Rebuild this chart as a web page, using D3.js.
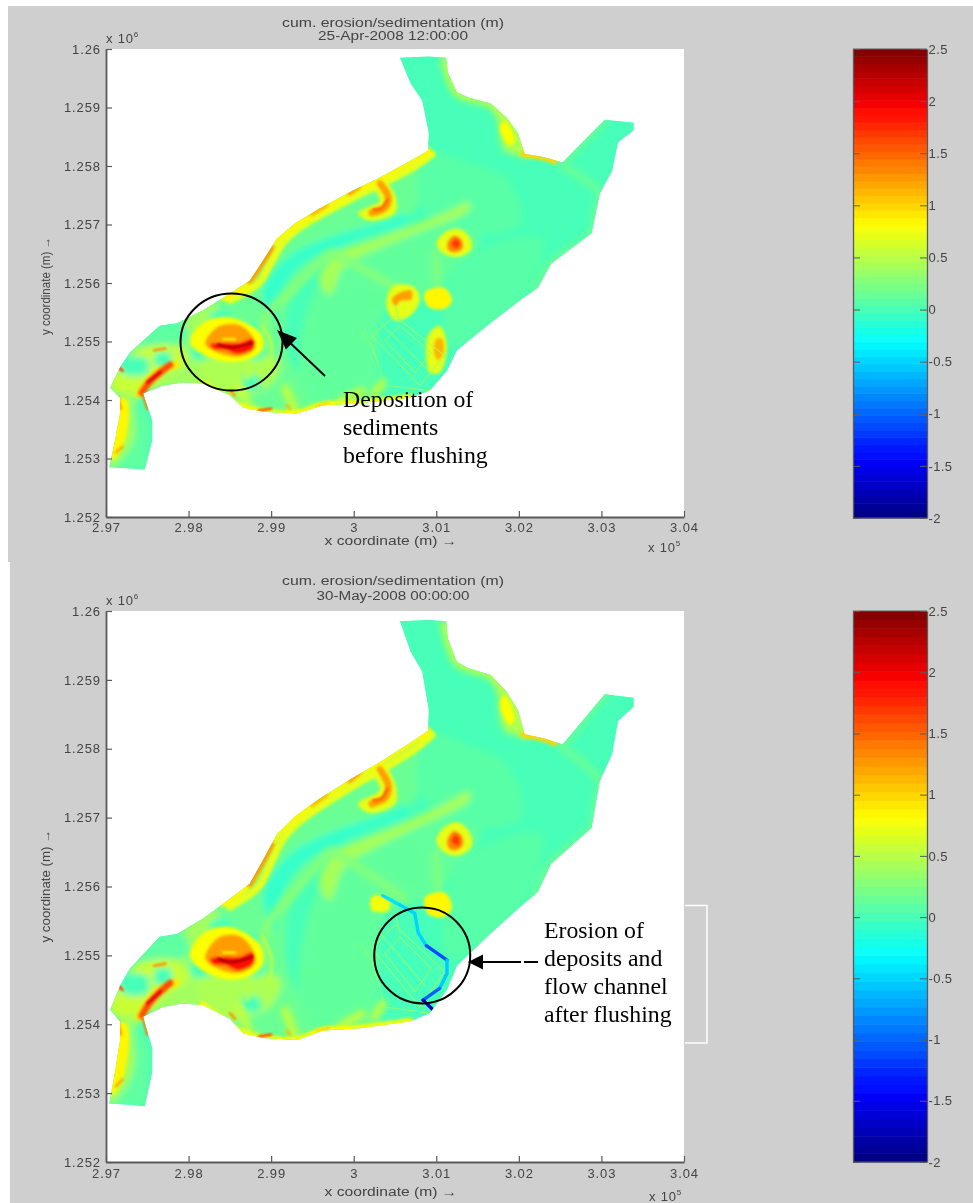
<!DOCTYPE html>
<html><head><meta charset="utf-8">
<script src="https://cdn.jsdelivr.net/npm/d3@7/dist/d3.min.js"></script>
<style>html,body{margin:0;padding:0;background:#fff}svg{display:block}
text{font-family:"Liberation Sans",Arial,sans-serif;fill:#444}
.note{font-family:"Liberation Serif","Times New Roman",serif;fill:#000;font-size:23.8px}</style>
</head><body><svg id="c" width="973" height="1203"></svg>
<script>
// ---- data: coordinates in km (axis labels are x/100 ×10^5 m and y/1000 ×10^6 m) ----
const xTicks=[297,298,299,300,301,302,303,304];
const yTicks=[1252,1253,1254,1255,1256,1257,1258,1259,1260];
const cbTicks=[-2,-1.5,-1,-0.5,0,0.5,1,1.5,2,2.5];
const titleLine="cum. erosion/sedimentation (m)";
const dates=["25-Apr-2008 12:00:00","30-May-2008 00:00:00"];
const outline=[[300.56,1259.85],[300.91,1259.87],[301.12,1259.85],[301.14,1259.6],[301.25,1259.26],[301.39,1259.17],[301.66,1259.07],[301.85,1258.83],[301.99,1258.56],[302.07,1258.21],[302.31,1258.15],[302.53,1258.06],[303.04,1258.79],[303.39,1258.74],[303.39,1258.61],[303.20,1258.40],[303.13,1257.92],[302.98,1257.53],[302.93,1257.19],[302.88,1256.85],[302.39,1256.33],[302.23,1255.92],[302.01,1255.70],[301.65,1255.31],[301.25,1254.85],[301.13,1254.50],[300.92,1254.16],[300.68,1254.04],[300.04,1253.94],[299.63,1253.91],[299.31,1253.77],[298.90,1253.80],[298.66,1253.87],[298.50,1254.08],[298.17,1254.28],[297.93,1254.30],[297.69,1254.25],[297.45,1254.11],[297.56,1253.65],[297.56,1253.31],[297.47,1252.81],[297.31,1252.83],[297.04,1252.85],[297.11,1253.31],[297.17,1253.77],[297.17,1254.04],[297.05,1254.21],[297.17,1254.56],[297.29,1254.81],[297.65,1255.27],[297.86,1255.31],[298.17,1255.53],[298.42,1255.75],[298.74,1256.04],[298.90,1256.38],[299.07,1256.76],[299.29,1257.02],[299.58,1257.27],[299.99,1257.58],[300.31,1257.80],[300.69,1258.09],[300.90,1258.26],[300.91,1258.56],[300.83,1259.12],[300.69,1259.41]];
// filled zones: [value in m, polygon]
const zones=[
[0.16,[[298.31,1255.70],[298.74,1256.08],[299.07,1256.76],[299.58,1257.27],[300.30,1257.80],[300.74,1258.09],[300.75,1257.27],[300.19,1256.93],[299.77,1256.59],[299.35,1256.04],[299.17,1255.36],[299.35,1254.42],[300.32,1254.0],[299.35,1253.72],[298.66,1253.82],[298.2,1254.25],[297.9,1255.0]]],
[0.12,[[299.83,1256.47],[300.8,1257.03],[301.4,1257.32],[301.53,1256.73],[300.92,1255.87],[300.38,1255.53],[300.19,1254.08],[299.47,1253.99],[299.35,1255.02]]],
[0.08,[[300.91,1258.21],[301.42,1258.04],[301.85,1257.79],[302.03,1257.02],[301.53,1256.85],[300.8,1257.36]]],
[0.07,[[301.25,1256.33],[302.28,1256.76],[302.03,1255.70],[301.16,1254.93]]],
[-0.08,[[298.9,1255.88],[299.23,1256.47],[299.71,1256.78],[300.44,1257.09],[300.62,1257.19],[300.62,1257.02],[300.2,1256.85],[299.71,1256.55],[299.35,1256.27],[299.11,1255.79],[299.05,1255.36]]],
[0.42,[[299.58,1256.05],[299.77,1256.5],[300.26,1256.75],[300.74,1257.0],[301.1,1257.2],[301.4,1257.38],[301.4,1257.25],[300.8,1256.88],[300.32,1256.6],[299.89,1256.28],[299.71,1255.8]]],
[0.4,[[297.04,1252.85],[297.17,1254.0],[297.05,1254.21],[297.29,1254.81],[297.86,1255.31],[298.32,1255.7],[298.2,1254.28],[297.45,1254.11],[297.35,1253.31],[297.23,1252.85]]],
[0.58,[[297.05,1254.2],[297.25,1254.7],[297.7,1254.95],[298.0,1254.7],[297.7,1254.4],[297.45,1254.15]]],
[0.85,[[297.13,1254.0],[297.25,1254.0],[297.23,1253.31],[297.08,1252.96],[297.07,1253.21]]],
[0.1,[[297.33,1254],[297.53,1253.65],[297.53,1253.31],[297.47,1252.81],[297.11,1252.85],[297.23,1253.05],[297.35,1253.39]]],
[0,[[297.2,1254.7],[297.5,1254.7],[297.5,1254.45],[297.2,1254.45]]],
[0,[[297.6,1254.8],[297.78,1254.8],[297.78,1254.58],[297.6,1254.58]]],
[0.1,[[297.33,1254.95],[297.6,1255.25],[297.95,1255.3],[298.0,1255.0],[297.7,1254.95]]],
[0,[[298.05,1255.0],[298.3,1255.0],[298.3,1254.7],[298.05,1254.7]]],
[0,[[298.28,1255.5],[298.5,1255.5],[298.5,1255.3],[298.28,1255.3]]],
[0.45,[[298.11,1254.64],[299.11,1254.67],[298.98,1254.25],[298.38,1254.07],[298.14,1254.42]]],
[0,[[298.66,1254.38],[298.86,1254.38],[298.86,1254.2],[298.66,1254.2]]],
[0,[[298.75,1255.3],[298.85,1255.3],[298.88,1254.7],[298.78,1254.7]]],
[0.8,[[298.02,1254.98],[298.16,1255.3],[298.44,1255.42],[298.72,1255.3],[298.89,1255.1],[298.88,1254.83],[298.62,1254.66],[298.26,1254.72]]],
[1.25,[[298.2,1254.96],[298.36,1255.26],[298.62,1255.28],[298.78,1255.07],[298.79,1254.86],[298.59,1254.74],[298.33,1254.82]]],
[1.9,[[298.26,1254.95],[298.46,1254.98],[298.62,1254.98],[298.78,1255.05],[298.8,1254.9],[298.6,1254.78],[298.44,1254.86],[298.3,1254.87]]],
[0.7,[[300.22,1257.70],[300.34,1257.79],[300.50,1257.50],[300.50,1257.20],[300.19,1257.07],[300.05,1257.20],[300.22,1257.32],[300.32,1257.41]]],
[0.7,[[301.0,1256.67],[301.1,1256.86],[301.26,1256.93],[301.40,1256.79],[301.43,1256.59],[301.28,1256.45],[301.1,1256.49]]],
[1.35,[[301.13,1256.67],[301.21,1256.81],[301.31,1256.74],[301.32,1256.59],[301.23,1256.52],[301.15,1256.55]]],
[1.7,[[301.18,1256.67],[301.24,1256.76],[301.29,1256.67],[301.25,1256.59]]],
[0.85,[[300.86,1255.84],[301.1,1255.91],[301.19,1255.7],[301.1,1255.56],[300.9,1255.6]]],
[0.45,[[301.66,1259.07],[301.99,1258.56],[302.06,1258.21],[301.83,1258.26],[301.73,1258.86]]],
[0.8,[[301.83,1258.78],[301.95,1258.44],[301.89,1258.35],[301.77,1258.64]]]
];
// zones seen only in the April picture
const aprilZones=[
[0.7,[[300.41,1255.79],[300.5,1255.96],[300.74,1255.92],[300.8,1255.7],[300.68,1255.44],[300.5,1255.36],[300.41,1255.53]]],
[1.25,[[300.46,1255.72],[300.56,1255.84],[300.7,1255.87],[300.7,1255.72],[300.56,1255.69],[300.51,1255.6]]],
[0.7,[[300.9,1255.1],[301.04,1255.27],[301.13,1254.93],[301.04,1254.47],[300.92,1254.47]]],
[1.15,[[301.0,1255.05],[301.07,1255.05],[301.09,1254.81],[301.02,1254.67],[300.97,1254.81]]]
];
const mayZones=[
[0.75,[[300.22,1255.85],[300.42,1255.85],[300.42,1255.65],[300.22,1255.65]]]
];
// streaks: [value, polyline]
const wideStreaks=[
[0.72,[[298.5,1255.7],[298.85,1256.0],[299.0,1256.35],[299.15,1256.7],[299.35,1256.95],[299.65,1257.2],[300.05,1257.5],[300.35,1257.7],[300.75,1258.0],[300.95,1258.2]]],
[0.85,[[298.42,1255.75],[298.74,1256.04],[298.90,1256.38],[299.07,1256.76],[299.29,1257.02],[299.58,1257.27],[299.99,1257.58],[300.31,1257.80],[300.69,1258.09],[300.90,1258.26]]],
[1.25,[[298.74,1256.04],[298.90,1256.38],[299.0,1256.6]]],
[1.1,[[299.5,1257.2],[299.65,1257.33]]],
[1.2,[[299.95,1257.55],[300.05,1257.65]]],
[0.5,[[301.1,1259.8],[301.25,1259.26],[301.39,1259.17],[301.65,1259.07],[301.85,1258.83],[301.99,1258.56],[302.07,1258.21]]],
[1.0,[[302.06,1258.21],[302.31,1258.15],[302.43,1258.09]]],
[0.15,[[302.53,1258.0],[302.98,1257.53],[302.93,1257.19],[302.88,1256.85],[302.39,1256.33],[302.19,1255.87]]],
[0.15,[[302.53,1258.06],[303.04,1258.79]]],
[0.8,[[298.17,1254.28],[298.66,1253.87],[298.90,1253.8],[299.31,1253.77],[299.63,1253.91],[300.04,1253.94],[300.68,1254.04]]],
[0.3,[[299.7,1256.5],[299.3,1255.95],[298.92,1255.35],[298.95,1254.9]]],
[0.28,[[299.74,1256.52],[300.17,1256.19],[300.6,1255.84]]],
[0.25,[[300.99,1256.48],[301.03,1255.84]]],
[0.55,[[298.6,1254.25],[298.75,1253.85]]],
[0.55,[[299.17,1254.2],[299.3,1253.8]]],
[0.55,[[299.85,1253.98],[300.1,1254.15]]],
[0.55,[[300.35,1254.3],[300.25,1254.1]]],
[1.25,[[300.32,1257.70],[300.42,1257.46],[300.38,1257.29],[300.22,1257.20]]],
[0.9,[[297.4,1254.1],[297.5,1254.3],[297.65,1254.5],[297.85,1254.6]]],
[1.6,[[297.43,1254.12],[297.52,1254.3],[297.66,1254.48],[297.78,1254.6]]]
];
const thinStreaks=[
[0.5,[[298.89,1255.27],[299.01,1254.93],[298.96,1254.58]]],
[0.9,[[298.42,1255.04],[298.56,1255.04]]],
[2.3,[[298.36,1254.95],[298.52,1254.9],[298.77,1254.98]]],
[1.5,[[300.41,1257.42],[300.34,1257.28],[300.24,1257.25]]],
[0.5,[[298.72,1254.6],[298.72,1254.35]]],
[1.6,[[298.85,1253.82],[299.0,1253.85]]],
[1.3,[[298.5,1254.16],[298.56,1254.08]]],
[1.1,[[299.19,1253.91],[299.23,1253.85]]],
[1.0,[[299.55,1253.9],[299.7,1253.95]]],
[2.1,[[297.5,1254.3],[297.66,1254.48]]],
[1.7,[[297.12,1254.6],[297.2,1254.5]]],
[1.4,[[297.45,1254.1],[297.5,1253.85]]],
[1.3,[[297.14,1254.05],[297.18,1253.85]]],
[1.2,[[297.12,1253.1],[297.2,1253.2]]],
[1.3,[[297.58,1254.85],[297.72,1254.88]]]
];
// faint hatching of the rectangular works
const faintLines=[
[-0.12,[[300.28,1255.31],[300.84,1254.5]]],
[-0.12,[[300.38,1255.31],[300.9,1254.59]]],
[0.38,[[300.33,1255.31],[300.87,1254.55]]],
[0.4,[[300.22,1255.1],[300.5,1255.44],[301.1,1254.76],[300.8,1254.25],[300.22,1255.1]]],
[0.38,[[300.38,1255.02],[300.56,1255.27],[300.94,1254.81],[300.74,1254.47],[300.38,1255.02]]],
[0.35,[[300.07,1255.19],[300.22,1254.93],[300.38,1254.25],[300.92,1254.16]]],
[0.35,[[300.56,1255.33],[300.5,1255.62]]]
];
// eroded flow channel, May picture only
const mayChannel=[
[-0.45,[[300.35,1255.87],[300.56,1255.73]]],
[-0.5,[[300.56,1255.73],[300.74,1255.61],[300.78,1255.33],[300.88,1255.14]]],
[-1.1,[[300.88,1255.14],[301.13,1254.93]]],
[-0.55,[[301.13,1254.93],[301.13,1254.74],[301.04,1254.52]]],
[-1.0,[[301.04,1254.52],[300.84,1254.35]]],
[-1.7,[[300.84,1254.35],[300.96,1254.21]]]
];
const noteLinesApril=["Deposition of","sediments","before flushing"];
const noteLinesMay=["Erosion of","deposits and","flow channel","after flushing"];

// ---- drawing ----
const clamp=v=>Math.max(0,Math.min(1,v));
const jetT=t=>d3.rgb(255*clamp(1.5-Math.abs(4*t-3)),255*clamp(1.5-Math.abs(4*t-2)),255*clamp(1.5-Math.abs(4*t-1))).formatHex();
const colorOf=d3.scaleLinear([-2,2.5],[0,1]);
const jet=v=>jetT(colorOf(v));
const GRAY="#cfcfcf",AX="#5a5a5a";
const svg=d3.select("#c");
const defs=svg.append("defs");
[["b3",3.2],["b2",1.5],["b1",0.8],["soft",0.4]].forEach(([id,s])=>
  defs.append("filter").attr("id",id).attr("x","-5%").attr("y","-5%").attr("width","110%").attr("height","110%")
  .append("feGaussianBlur").attr("stdDeviation",s));
svg.append("rect").attr("width",973).attr("height",1203).attr("fill","#fff");
svg.append("rect").attr("x",8).attr("y",6).attr("width",965).attr("height",556).attr("fill",GRAY);
svg.append("rect").attr("x",10).attr("y",562).attr("width",963).attr("height",641).attr("fill",GRAY);

function panel(i,o){
  const {top,bottom}=o;
  const x=d3.scaleLinear([297,304],[106,684]);
  const y=d3.scaleLinear([1252,1260],[bottom,top]);
  const g=svg.append("g");
  g.append("rect").attr("x",106).attr("y",top).attr("width",578).attr("height",bottom-top).attr("fill","#fff");
  const line=d3.line().x(d=>x(d[0])).y(d=>y(d[1]));
  const smoothOpen=d3.line().x(d=>x(d[0])).y(d=>y(d[1])).curve(d3.curveCatmullRom.alpha(0.5));
  const smoothClosed=d3.line().x(d=>x(d[0])).y(d=>y(d[1])).curve(d3.curveCatmullRomClosed.alpha(0.5));
  const cid="clip"+i;
  defs.append("clipPath").attr("id",cid).append("path").attr("d",line(outline)+"Z");
  const map=g.append("g").attr("clip-path",`url(#${cid})`);
  map.append("path").attr("d",line(outline)+"Z").attr("fill",jet(0)).attr("stroke",jet(0)).attr("stroke-width",8);
  const zs=i===0?zones.concat(aprilZones):zones.concat(mayZones);
  const low=v=>v<0.6;
  const drawZones=(data,f)=>map.append("g").attr("filter",`url(#${f})`).selectAll("path").data(data).join("path")
    .attr("d",d=>smoothClosed(d[1])).attr("fill",d=>jet(d[0]));
  const drawLines=(data,f,w,gen)=>map.append("g").attr("filter",`url(#${f})`).selectAll("path").data(data).join("path")
    .attr("d",d=>(gen||smoothOpen)(d[1])).attr("fill","none").attr("stroke",d=>jet(d[0])).attr("stroke-width",w).attr("stroke-linecap","round");
  drawZones(zs.filter(d=>low(d[0])),"b3");
  drawLines(wideStreaks.filter(d=>low(d[0])),"b3",8);
  drawZones(zs.filter(d=>!low(d[0])),"b2");
  drawLines(wideStreaks.filter(d=>!low(d[0])),"b2",7);
  drawLines(thinStreaks,"b1",2.6);
  drawLines(faintLines,"soft",1,line);
  if(i===1) drawLines(mayChannel,"soft",3.4,line);

  const soft=g.append("g").attr("filter","url(#soft)");
  const ax=soft.append("g").attr("transform",`translate(0,${bottom})`)
    .call(d3.axisBottom(x).tickValues(xTicks).tickFormat(d=>+(d/100).toFixed(2)).tickSizeInner(-6).tickPadding(o.xPad).tickSizeOuter(0));
  const ay=soft.append("g").attr("transform","translate(106,0)")
    .call(d3.axisLeft(y).tickValues(yTicks).tickFormat(d=>+(d/1000).toFixed(3)).tickSizeInner(-6).tickPadding(5).tickSizeOuter(0));
  [ax,ay].forEach(a=>{a.selectAll("path").attr("stroke",AX).attr("stroke-width",1.8);
    a.selectAll("line").attr("stroke",AX).attr("stroke-width",1.2);
    a.selectAll("text").attr("font-size",13).attr("fill","#444").attr("font-family","Liberation Sans").style("letter-spacing","0.9px");});
  const txt=(s,xx,yy,fs,anchor,len)=>{const t=soft.append("text").attr("x",xx).attr("y",yy).attr("font-size",fs).attr("text-anchor",anchor||"middle").text(s);
    if(len) t.attr("textLength",len).attr("lengthAdjust","spacingAndGlyphs");return t;};
  txt(titleLine,393,o.t1,12.5,"middle",222); txt(dates[i],393,o.t2,12.5,"middle",o.dateLen);
  txt("x coordinate (m) \u2192",391,o.xLab,12,"middle",133);
  const e1=txt("x 10",o.xExp[0],o.xExp[1],13,"start").style("letter-spacing","0.8px"); e1.append("tspan").attr("dy",-6).attr("font-size",8).text("5");
  const e2=txt("x 10",106,o.yExp,13,"start").style("letter-spacing","0.8px"); e2.append("tspan").attr("dy",-6).attr("font-size",8).text("6");
  soft.append("text").attr("transform",`translate(50,${o.yLabY}) rotate(-90)`).attr("text-anchor","middle").attr("font-size",12)
    .attr("textLength",o.yLabLen).attr("lengthAdjust","spacingAndGlyphs").text("y coordinate (m) \u2192");

  // colour bar
  const cy=d3.scaleLinear([-2,2.5],[o.cbBot,o.cbTop]);
  const levels=d3.range(64), step=4.5/64;
  const cb=soft.append("g");
  cb.selectAll("rect").data(levels).join("rect").attr("x",853).attr("width",74)
    .attr("y",d=>cy(-2+(d+1)*step)).attr("height",(o.cbBot-o.cbTop)/64+0.5).attr("fill",d=>jetT((d+0.5)/64));
  const cr=cb.append("g").attr("transform","translate(927,0)")
    .call(d3.axisRight(cy).tickValues(cbTicks).tickFormat(d=>d).tickSizeInner(-7).tickPadding(2).tickSizeOuter(0));
  cr.selectAll("text").attr("x",1.5).attr("font-size",13).attr("fill","#444").attr("font-family","Liberation Sans").style("letter-spacing","0.4px");
  const cl=cb.append("g").attr("transform","translate(853,0)")
    .call(d3.axisLeft(cy).tickValues(cbTicks).tickFormat("").tickSizeInner(-7).tickSizeOuter(0));
  [cr,cl].forEach(a=>{a.selectAll("path").attr("stroke",AX).attr("stroke-width",1.3);a.selectAll("line").attr("stroke",AX);});
  cb.append("line").attr("x1",853).attr("x2",927).attr("y1",o.cbTop).attr("y2",o.cbTop).attr("stroke",AX);
  cb.append("line").attr("x1",853).attr("x2",927).attr("y1",o.cbBot).attr("y2",o.cbBot).attr("stroke",AX);
  return {x,y,g};
}
const a=panel(0,{top:49,bottom:517,xPad:5.5,t1:27,t2:40,dateLen:150,xLab:545,xExp:[648,552],yExp:43,yLabY:286,yLabLen:98,cbTop:49,cbBot:518});
const b=panel(1,{top:611,bottom:1162,xPad:6.5,t1:585,t2:600,dateLen:153,xLab:1196,xExp:[649,1201],yExp:605,yLabY:886,yLabLen:113,cbTop:611,cbBot:1162});

// annotations
function head(tipX,tipY,fromX,fromY,len,hw){
  const d=Math.hypot(tipX-fromX,tipY-fromY),ux=(tipX-fromX)/d,uy=(tipY-fromY)/d;
  return `M${tipX},${tipY}L${tipX-ux*len-uy*hw},${tipY-uy*len+ux*hw}L${tipX-ux*len+uy*hw},${tipY-uy*len-ux*hw}Z`;
}
const an=svg.append("g");
an.append("ellipse").attr("cx",a.x(298.52)).attr("cy",a.y(1254.99)).attr("rx",51).attr("ry",48.5).attr("fill","none").attr("stroke","#000").attr("stroke-width",2);
an.append("line").attr("x1",325).attr("y1",376).attr("x2",285).attr("y2",338).attr("stroke","#000").attr("stroke-width",2);
an.append("path").attr("d",head(277,330,325,376,20,8)).attr("fill","#000");
noteLinesApril.forEach((s,i)=>an.append("text").attr("class","note").attr("x",343).attr("y",407+28*i).text(s));

an.append("ellipse").attr("cx",b.x(300.83)).attr("cy",b.y(1255.0)).attr("rx",48).attr("ry",48).attr("fill","none").attr("stroke","#000").attr("stroke-width",2);
an.append("line").attr("x1",480).attr("y1",962).attr("x2",521).attr("y2",962).attr("stroke","#000").attr("stroke-width",2);
an.append("line").attr("x1",524).attr("y1",962).attr("x2",538).attr("y2",962).attr("stroke","#000").attr("stroke-width",2);
an.append("path").attr("d",head(468,962,538,962,15,7.5)).attr("fill","#000");
noteLinesMay.forEach((s,i)=>an.append("text").attr("class","note").attr("x",544).attr("y",938+28*i).text(s));
an.append("path").attr("d","M685,905.5H707V1043H685").attr("fill","none").attr("stroke","#fff").attr("stroke-width",1.5);
</script></body></html>
